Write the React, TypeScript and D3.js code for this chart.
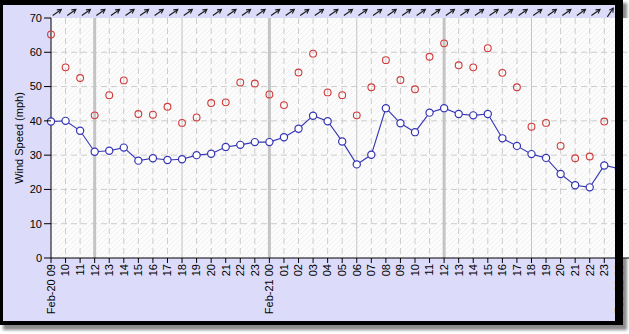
import React from "react";
import * as d3 from "d3";

const hourLabels = [
  "Feb-20 09", "10", "11", "12", "13", "14", "15", "16", "17", "18", "19", "20", "21", "22", "23",
  "Feb-21 00", "01", "02", "03", "04", "05", "06", "07", "08", "09", "10", "11", "12", "13", "14",
  "15", "16", "17", "18", "19", "20", "21", "22", "23", "Feb-22 00",
];

const avgSpeed = [
  39.8, 40.0, 37.1, 31.0, 31.3, 32.2, 28.4, 29.1, 28.6, 28.8,
  30.0, 30.4, 32.4, 33.0, 33.8, 33.8, 35.2, 37.7, 41.5, 39.9,
  34.0, 27.3, 30.1, 43.7, 39.3, 36.7, 42.4, 43.7, 42.0, 41.6,
  42.0, 34.9, 32.7, 30.3, 29.2, 24.5, 21.2, 20.6, 27.0, 26.1,
];

const gustSpeed = [
  65.2, 55.6, 52.5, 41.6, 47.5, 51.8, 42.0, 41.8, 44.1, 39.4,
  41.0, 45.2, 45.4, 51.2, 50.9, 47.7, 44.6, 54.1, 59.6, 48.3,
  47.5, 41.6, 49.8, 57.7, 51.9, 49.2, 58.7, 62.6, 56.2, 55.6,
  61.2, 54.0, 49.8, 38.3, 39.4, 32.7, 29.1, 29.6, 39.8,
];

const windDir = [
  55, 55, 55, 55, 55, 55, 55, 55, 55, 55, 55, 55, 55, 55, 55,
  55, 55, 55, 55, 55, 55, 55, 55, 55, 55, 55, 55, 55, 55, 55,
  55, 55, 55, 55, 55, 55, 55, 55, 34,
];

const yTicks = [0, 10, 20, 30, 40, 50, 60, 70];

export default function App() {
  const W = 629, H = 334;
  const x = d3.scaleLinear().domain([0, 39]).range([51, 51 + 39 * 14.56]);
  const y = d3.scaleLinear().domain([0, 70]).range([258, 18]);
  const plotL = 51, plotR = 640, plotT = 18, plotB = 258;

  const line = d3
    .line<number>()
    .x((_, i) => x(i))
    .y((d) => y(d));

  const font = "'Liberation Sans', Arial, sans-serif";

  return (
    <svg
      width={W}
      height={H}
      style={{ position: "absolute", left: 0, top: 0, background: "#ffffff" }}
    >
      <defs>
        <pattern id="hatch" patternUnits="userSpaceOnUse" width={5} height={5}>
          <rect width={5} height={5} fill="#fcfcfc" />
          <path d="M0,5 L5,0 M-1,1 L1,-1 M4,6 L6,4" stroke="#f0f0f0" strokeWidth={1} />
        </pattern>
        <filter id="shadow" x="-5%" y="-5%" width="110%" height="110%">
          <feGaussianBlur stdDeviation={1.5} />
        </filter>
        <clipPath id="gridClip">
          <rect x={plotL} y={plotT} width={plotR - plotL} height={plotB - plotT} />
        </clipPath>
        <clipPath id="markClip">
          <rect x={plotL - 6} y={plotT - 6} width={plotR - plotL + 6} height={plotB - plotT + 12} />
        </clipPath>
      </defs>

      {/* shadow */}
      <rect x={3} y={3} width={624} height={327} fill="#8a8a8a" filter="url(#shadow)" />
      {/* lavender background */}
      <rect x={0} y={0} width={622} height={325} fill="#dcdcfa" />

      {/* plot background */}
      <rect x={plotL} y={plotT} width={plotR - plotL} height={plotB - plotT} fill="url(#hatch)" />

      <g clipPath="url(#gridClip)">
        {/* horizontal grid */}
        {yTicks
          .filter((t) => t > 0 && t < 70)
          .map((t) => (
            <line
              key={"h" + t}
              x1={plotL}
              x2={plotR}
              y1={y(t)}
              y2={y(t)}
              stroke="#cccccc"
              strokeDasharray="6,4"
            />
          ))}
        {/* vertical grid */}
        {hourLabels.map((lab, i) => {
          const hourOfDay = (9 + i) % 24;
          if (i === 0) return null;
          if (hourOfDay === 0 || hourOfDay === 12) {
            return (
              <line key={"v" + i} x1={x(i)} x2={x(i)} y1={plotT} y2={plotB} stroke="#c4c4c4" strokeWidth={3} />
            );
          }
          if (hourOfDay === 6 || hourOfDay === 18) {
            return (
              <line key={"v" + i} x1={x(i)} x2={x(i)} y1={plotT} y2={plotB} stroke="#c4c4c4" strokeWidth={1} />
            );
          }
          return (
            <line
              key={"v" + i}
              x1={x(i)}
              x2={x(i)}
              y1={plotT}
              y2={plotB}
              stroke="#cccccc"
              strokeDasharray="6,4"
            />
          );
        })}
      </g>

      {/* axes */}
      <line x1={plotL} x2={plotL} y1={plotT} y2={plotB} stroke="#000" />
      <line x1={plotL} x2={plotR} y1={plotB} y2={plotB} stroke="#000" />

      <g clipPath="url(#markClip)">
        {/* average line */}
        <path d={line(avgSpeed) || ""} fill="none" stroke="#3434b4" strokeWidth={1.1} />
        {avgSpeed.map((v, i) => (
          <circle key={"a" + i} cx={x(i)} cy={y(v)} r={3.6} fill="#ffffff" stroke="#3434b4" strokeWidth={1.2} />
        ))}
        {gustSpeed.map((v, i) => (
          <circle key={"g" + i} cx={x(i)} cy={y(v)} r={3.4} fill="none" stroke="#d03a3a" strokeWidth={1.1} />
        ))}
      </g>

      {yTicks.map((t) => (
        <g key={"yt" + t}>
          <line x1={plotL - 7} x2={plotL} y1={y(t)} y2={y(t)} stroke="#000" />
          <text
            x={plotL - 9}
            y={y(t)}
            dy="0.35em"
            textAnchor="end"
            fontFamily={font}
            fontSize={11}
            fill="#000"
          >
            {t}
          </text>
        </g>
      ))}
      {hourLabels.map((lab, i) => (
        <g key={"xt" + i}>
          <line x1={x(i)} x2={x(i)} y1={plotB} y2={plotB + 5} stroke="#000" />
          <text
            transform={`translate(${x(i)},${plotB + 6}) rotate(-90)`}
            dy="0.35em"
            textAnchor="end"
            fontFamily={font}
            fontSize={11}
            fill="#000"
          >
            {lab}
          </text>
        </g>
      ))}
      <text
        transform={`translate(19,${(plotT + plotB) / 2}) rotate(-90)`}
        dy="0.35em"
        textAnchor="middle"
        fontFamily={font}
        fontSize={11}
        fill="#000"
      >
        Wind Speed (mph)
      </text>

      {/* wind direction arrows */}
      {windDir.map((deg, i) => {
        const rad = (deg * Math.PI) / 180;
        const vx = Math.sin(rad), vy = -Math.cos(rad);
        const L = 10.5;
        const cx = x(i) + 6, cy = 12.5;
        const tx = cx - (vx * L) / 2, ty = cy - (vy * L) / 2;
        const hx = cx + (vx * L) / 2, hy = cy + (vy * L) / 2;
        const hl = 4.5, ha = (30 * Math.PI) / 180;
        const bx = -vx, by = -vy;
        const p1x = hx + hl * (bx * Math.cos(ha) - by * Math.sin(ha));
        const p1y = hy + hl * (bx * Math.sin(ha) + by * Math.cos(ha));
        const p2x = hx + hl * (bx * Math.cos(-ha) - by * Math.sin(-ha));
        const p2y = hy + hl * (bx * Math.sin(-ha) + by * Math.cos(-ha));
        return (
          <g key={"w" + i} stroke="#1a1a1a" strokeWidth={1.1} fill="none">
            <line x1={tx} y1={ty} x2={hx} y2={hy} />
            <polyline points={`${p1x},${p1y} ${hx},${hy} ${p2x},${p2y}`} />
          </g>
        );
      })}

      {/* black frame */}
      <path
        d="M0,0 H623 V325 H0 Z M3,5 V321 H615 V5 Z"
        fill="#000"
        fillRule="evenodd"
      />
    </svg>
  );
}
